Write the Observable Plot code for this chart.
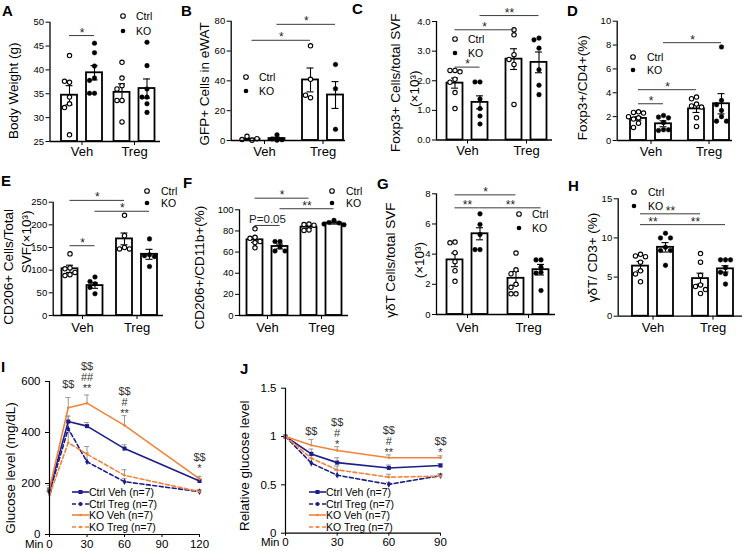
<!DOCTYPE html>
<html>
<head>
<meta charset="utf-8">
<script src="https://cdn.jsdelivr.net/npm/d3@7"></script>
<script src="https://cdn.jsdelivr.net/npm/@observablehq/plot@0.6"></script>
<style>
  html, body { margin: 0; padding: 0; background: #fff; }
  #fig { position: relative; width: 743px; height: 551px; overflow: hidden; background: #fff;
         font-family: "Liberation Sans", Arial, Helvetica, sans-serif; color: #000; }
  #fig > svg { position: absolute; left: 0; top: 0; }
  .letter { position: absolute; font-weight: bold; font-size: 15px; line-height: 1; }
  .txt { position: absolute; font-size: 10.5px; line-height: 12px; white-space: nowrap; }
  .sym { position: absolute; }
</style>
</head>
<body>
<div id="fig"></div>
<script>
// ---------------- DATA ----------------
const barKeys = ["Veh Ctrl", "Veh KO", "Treg Ctrl", "Treg KO"];
const groups = ["Veh", "Treg"];
const legendLabels = ["Ctrl", "KO"];

// A: Body weight (g)
const A_means = [34.7, 39.4, 35.3, 36.1];
const A_sems = [2.0, 1.5, 1.8, 2.0];
const A_points = [[43.0, 37.4, 37.6, 34.3, 32.9, 32.1, 26.4], [45.6, 43.6, 40.8, 38.3, 37.8, 35.1, 35.1],
                  [41.6, 38.3, 36.7, 36.0, 33.6, 33.6, 29.1], [45.8, 40.9, 36.0, 34.3, 34.3, 32.9, 31.1]];
const A_ticks = [25, 30, 35, 40, 45, 50];
const A_sig = [["Veh Ctrl", "Veh KO", 47.2, "*"]];
const A_ylabel = ["Body Weight (g)"];

// B: GFP+ cells in eWAT
const B_means = [0.9, 1.3, 40.6, 30.5];
const B_sems = [0.6, 0.9, 8.0, 9.0];
const B_points = [[0.2, 2.8, 1.2, 0.6], [0.2, 3.8, 1.0, 0.5], [63.5, 41.0, 28.7, 30.4], [51.0, 34.7, 7.5]];
const B_ticks = [0, 20, 40, 60, 80];
const B_sig = [["Veh KO", "Treg KO", 77.9, "*"], ["Veh Ctrl", "Treg Ctrl", 67.2, "*"]];
const B_ylabel = ["GFP+ Cells in eWAT"];

// C: Foxp3+ cells / total SVF (x10^3)
const C_means = [1.92, 1.27, 2.73, 2.62];
const C_sems = [0.17, 0.22, 0.35, 0.35];
const C_points = [[2.35, 2.35, 2.3, 2.05, 1.95, 1.6, 1.06], [1.96, 1.96, 1.38, 1.06, 0.81, 0.54],
                  [3.72, 3.55, 2.88, 2.72, 2.55, 1.2], [3.44, 3.38, 3.1, 2.37, 1.85, 1.53]];
const C_ticks = [0, 1, 2, 3, 4];
const C_sig = [["Veh KO", "Treg KO", 4.2, "**"], ["Veh Ctrl", "Treg Ctrl", 3.72, "*"], ["Veh Ctrl", "Veh KO", 2.46, "*"]];
const C_ylabel = ["Foxp3+ Cells/total SVF", "(×10³)"];

// D: Foxp3+/CD4+ (%)
const D_means = [1.85, 1.40, 2.65, 3.08];
const D_sems = [0.15, 0.25, 0.3, 0.85];
const D_points = [[2.4, 2.35, 2.3, 2.0, 1.9, 1.8, 1.45, 1.1], [2.1, 1.96, 1.9, 1.5, 0.9, 0.84, 0.9],
                  [3.64, 3.5, 3.05, 2.9, 2.8, 1.9, 1.18], [7.84, 3.36, 3.0, 2.52, 2.0, 1.62, 1.62]];
const D_ticks = [0, 2, 4, 6, 8, 10];
const D_sig = [["Veh KO", "Treg KO", 8.2, "*"], ["Veh Ctrl", "Treg Ctrl", 4.26, "*"], ["Veh Ctrl", "Veh KO", 3.08, "*"]];
const D_ylabel = ["Foxp3+/CD4+(%)"];

// E: CD206+ cells / total SVF (x10^3)
const E_means = [103, 66, 169, 135];
const E_sems = [8, 6, 13, 11];
const E_points = [[136, 105, 103, 95, 90, 88], [85, 75, 70, 62, 48], [221, 176, 150, 147, 147], [169, 134, 132, 130, 108]];
const E_ticks = [0, 50, 100, 150, 200, 250];
const E_sig = [["Veh Ctrl", "Treg Ctrl", 254, "*"], ["Veh KO", "Treg KO", 230, "*"], ["Veh Ctrl", "Veh KO", 154, "*"]];
const E_ylabel = ["CD206+ Cells/Total", "SVF(×10³)"];

// F: CD206+/CD11b+ (%)
const F_means = [71.6, 65.3, 83.6, 87.4];
const F_sems = [2.5, 2.3, 1.0, 0.9];
const F_points = [[82, 74, 73, 70, 69, 64], [70, 70, 65, 61, 61], [86.5, 86, 85.5, 81, 80.5], [90, 88, 87.5, 86.5, 85.8]];
const F_ticks = [0, 20, 40, 60, 80, 100];
const F_sig = [["Veh Ctrl", "Treg Ctrl", 111, "*"], ["Veh KO", "Treg KO", 101, "**"], ["Veh Ctrl", "Veh KO", 85.2, "P=0.05"]];
const F_ylabel = ["CD206+/CD11b+(%)"];

// G: γδT cells / total SVF (x10^3)
const G_means = [3.62, 5.35, 2.40, 2.97];
const G_sems = [0.45, 0.4, 0.45, 0.35];
const G_points = [[4.8, 4.75, 4.1, 3.5, 2.9, 2.2], [6.67, 5.97, 5.3, 4.3, 4.3],
                  [4.07, 2.96, 2.7, 2.0, 1.8, 1.37, 1.37], [3.62, 3.62, 3.14, 2.8, 2.74, 1.59]];
const G_ticks = [0, 2, 4, 6, 8];
const G_sig = [["Veh Ctrl", "Treg Ctrl", 7.93, "*"], ["Veh Ctrl", "Veh KO", 7.07, "**"], ["Veh KO", "Treg KO", 7.07, "**"]];
const G_ylabel = ["γδT Cells/total SVF", "(×10³)"];

// H: γδT / CD3+ (%)
const H_means = [6.4, 8.8, 4.8, 6.05];
const H_sems = [0.6, 0.6, 0.7, 0.4];
const H_points = [[7.9, 7.7, 7.6, 6.9, 5.8, 5.4, 4.4], [10.6, 10.0, 10.0, 8.8, 8.4, 8.4, 6.5],
                  [8.0, 6.9, 5.2, 4.0, 3.8, 3.4, 2.9], [7.2, 7.2, 7.2, 6.2, 5.6, 5.4, 4.1]];
const H_ticks = [0, 5, 10, 15];
const H_sig = [["Veh Ctrl", "Treg Ctrl", 13.08, "**"], ["Veh Ctrl", "Veh KO", 11.7, "**"], ["Veh KO", "Treg KO", 11.7, "**"]];
const H_ylabel = ["γδT/ CD3+ (%)"];

// I: GTT glucose (mg/dL)
const seriesNames = ["Ctrl Veh (n=7)", "Ctrl Treg (n=7)", "KO Veh (n=7)", "KO Treg (n=7)"];
const I_times = [0, 15, 30, 60, 120];
const I_ctrlVeh = [175, 443, 425, 337, 210];
const I_ctrlTreg = [165, 415, 285, 207, 168];
const I_koVeh = [180, 497, 515, 428, 218];
const I_koTreg = [155, 360, 315, 232, 168];
const I_semCtrlVeh = [8, 20, 14, 15, 8];
const I_semCtrlTreg = [8, 50, 35, 12, 5];
const I_semKoVeh = [12, 40, 32, 38, 10];
const I_semKoTreg = [12, 40, 30, 22, 8];
const I_yticks = [0, 200, 400, 600];
const I_xticks = [0, 30, 60, 90, 120];
const I_annT = [15, 30, 60, 120];
const I_annText = ["$$", "$$\n##\n**", "$$\n#\n**", "$$\n*"];
const I_annY = [575, 560, 462, 247];
const I_ylabel = "Glucose level (mg/dL)";

// J: relative glucose (ITT)
const J_times = [0, 15, 30, 60, 90];
const J_ctrlVeh = [1, 0.82, 0.73, 0.675, 0.70];
const J_ctrlTreg = [1, 0.725, 0.60, 0.505, 0.595];
const J_koVeh = [1, 0.91, 0.855, 0.78, 0.78];
const J_koTreg = [1, 0.775, 0.655, 0.58, 0.59];
const J_semCtrlVeh = [0, 0.05, 0.05, 0.03, 0.02];
const J_semCtrlTreg = [0, 0.05, 0.05, 0.02, 0.02];
const J_semKoVeh = [0, 0.06, 0.04, 0.03, 0.02];
const J_semKoTreg = [0, 0.06, 0.04, 0.03, 0.02];
const J_yticks = [0, 0.5, 1, 1.5];
const J_xticks = [0, 30, 60, 90];
const J_annT = [15, 30, 60, 90];
const J_annText = ["$$", "$$\n#\n*", "$$\n#\n**", "$$\n*"];
const J_annY = [1.02, 0.879, 0.80, 0.80];
const J_ylabel = "Relative glucose level";

// ---------------- LAYOUT (pixels) ----------------
const W = 743, H = 551;
const FONT = "'Liberation Sans', Arial, Helvetica, sans-serif";
const NAVY = "#1d1d8a", ORANGE = "#f2843a";
const BAR_LAYOUT = {
  A: {x0: 49.5, xe: 160, g0: 81.5, g1: 134, yTop: 21.7, yBase: 141, domain: [25, 50], ldx: [-36], ldy: [9], catDy: 14},
  B: {x0: 230.7, xe: 345, g0: 264, g1: 322.5, yTop: 20.7, yBase: 140, domain: [0, 80], ldx: [-27], ldy: [3], catDy: 15},
  C: {x0: 436, xe: 552, g0: 467, g1: 526, yTop: 21, yBase: 139.5, domain: [0, 4], ldx: [-41, -22], ldy: [2, 8], catDy: 15},
  D: {x0: 616.7, xe: 732, g0: 650.5, g1: 708.5, yTop: 20.7, yBase: 140, domain: [0, 10], ldx: [-35], ldy: [7], catDy: 15},
  E: {x0: 52.7, xe: 163, g0: 82, g1: 136.5, yTop: 201.7, yBase: 315, domain: [0, 250], ldx: [-45, -27], ldy: [8, -17], catDy: 16},
  F: {x0: 239, xe: 348, g0: 267, g1: 321, yTop: 209.3, yBase: 315, domain: [0, 100], ldx: [-40], ldy: [5], catDy: 16},
  G: {x0: 436, xe: 555, g0: 467, g1: 528, yTop: 193.3, yBase: 314, domain: [0, 8], ldx: [-46, -17], ldy: [6, 6], catDy: 17},
  H: {x0: 617.7, xe: 742, g0: 652.5, g1: 712.5, yTop: 198.3, yBase: 315.7, domain: [0, 15], ldx: [-26], ldy: [0], catDy: 16}
};
const BAR_LEGEND = {
  A: {cx: 123, cy: 16, tx: 136, dy: 15}, B: {cx: 246, cy: 77, tx: 259, dy: 14},
  C: {cx: 455, cy: 39, tx: 468, dy: 14}, D: {cx: 633, cy: 57, tx: 647, dy: 13},
  E: {cx: 147, cy: 191, tx: 161, dy: 12}, F: {cx: 332, cy: 191, tx: 346, dy: 12},
  G: {cx: 519, cy: 214, tx: 532, dy: 14}, H: {cx: 634, cy: 192, tx: 648, dy: 14}
};
const LETTERS = [["A", 2, 3], ["B", 181, 3], ["C", 352, 1], ["D", 567, 3], ["E", 1, 173], ["F", 183, 175],
                 ["G", 377, 176], ["H", 568, 178], ["I", 1, 359], ["J", 240, 361]];
const LINE_LAYOUT = {
  I: {x0: 49, xe: 199, yTop: 381, yBase: 534, xDomain: [0, 120], yDomain: [0, 600], ldx: -39, ldy: 10, cap: 2,
      leg: {x: 72, tx: 89, rows: [492, 503.5, 515, 526.5]}},
  J: {x0: 285, xe: 440, yTop: 387.7, yBase: 532.7, xDomain: [0, 90], yDomain: [0, 1.5], ldx: -41, ldy: 5, cap: 1.5,
      leg: {x: 309, tx: 326, rows: [492, 503.5, 515, 526.5]}}
};
const SERIES_STYLE = [
  {color: NAVY, dash: undefined, symbol: "square", r: 2.3},
  {color: NAVY, dash: "4,2.5", symbol: "diamond", r: 2.0},
  {color: ORANGE, dash: undefined, symbol: "circle", r: 1.3},
  {color: ORANGE, dash: "4,2.5", symbol: "circle", r: 1.3}
];

// ---------------- DRAWING ----------------
const fig = document.getElementById("fig");
function mount(el) { fig.appendChild(el); }
function addText(x, y, text, cls, extra) {
  const d = document.createElement("div");
  d.className = cls; d.textContent = text;
  d.style.left = x + "px"; d.style.top = y + "px";
  if (extra) Object.assign(d.style, extra);
  fig.appendChild(d);
}
function addSvg(x, y, w, h, inner) {
  const ns = "http://www.w3.org/2000/svg";
  const s = document.createElementNS(ns, "svg");
  s.setAttribute("class", "sym");
  s.setAttribute("width", w); s.setAttribute("height", h);
  s.style.left = x + "px"; s.style.top = y + "px"; s.style.position = "absolute";
  s.innerHTML = inner;
  fig.appendChild(s);
}

function barPanel(L, means, sems, points, ticks, sig, ylabel) {
  const unit = L.g1 - L.g0;
  const xDom = [(L.x0 - L.g0) / unit, (L.xe - L.g0) / unit];
  const off = 12.5 / unit, half = 8 / unit, cap = 3.5 / unit;
  const pxPerY = (L.yBase - L.yTop) / (L.domain[1] - L.domain[0]);
  const bars = barKeys.map((key, i) => {
    const [g, s] = key.split(" ");
    return {key, s, c: groups.indexOf(g) + (s === "Ctrl" ? -off : off), mean: means[i], sem: sems[i]};
  });
  const center = Object.fromEntries(bars.map(b => [b.key, b.c]));
  const pts = [];
  bars.forEach((b, i) => {
    const placed = [];
    points[i].forEach(v => {
      const py = v * pxPerY;
      let sx = 0;
      for (const k of [0, -1, 1, -2, 2, -3, 3]) {
        const cx = k * 5;
        if (placed.every(([qx, qy]) => Math.hypot(qx - cx, qy - py) >= 4.8)) { sx = cx; break; }
      }
      placed.push([sx, py]);
      pts.push({x: b.c + sx / unit, y: v, s: b.s});
    });
  });
  const sigs = sig.map(([a, b, y, t]) => ({x1: center[a], x2: center[b], y, t}));
  const base = L.domain[0];
  const marks = [
    Plot.rectY(bars, {x1: d => d.c - half, x2: d => d.c + half, y1: () => base, y2: "mean",
                      fill: "white", stroke: "black", strokeWidth: 1.8}),
    Plot.ruleX(bars, {x: "c", y1: d => d.mean - d.sem, y2: d => d.mean + d.sem, stroke: "black", strokeWidth: 1.1}),
    Plot.ruleY(bars, {y: d => d.mean + d.sem, x1: d => d.c - cap, x2: d => d.c + cap, stroke: "black", strokeWidth: 1.1}),
    Plot.ruleY(bars, {y: d => d.mean - d.sem, x1: d => d.c - cap, x2: d => d.c + cap, stroke: "black", strokeWidth: 1.1}),
    Plot.dot(pts, {filter: d => d.s === "Ctrl", x: "x", y: "y", r: 2.2, fill: "white", stroke: "black", strokeWidth: 1.1}),
    Plot.dot(pts, {filter: d => d.s === "KO", x: "x", y: "y", r: 2.3, fill: "black", stroke: "black", strokeWidth: 0.5}),
    Plot.ruleX([xDom[0]], {stroke: "black", strokeWidth: 1.3}),
    Plot.ruleY([base], {stroke: "black", strokeWidth: 1.3}),
    Plot.ruleY(sigs, {x1: "x1", x2: "x2", y: "y", stroke: "#3a3a3a", strokeWidth: 1}),
    Plot.text(sigs.filter(d => !d.t.startsWith("P")), {x: d => (d.x1 + d.x2) / 2, y: "y", text: "t", lineAnchor: "bottom", dy: 1, fontSize: 12, fill: "#222"}),
    Plot.text(sigs.filter(d => d.t.startsWith("P")), {x: d => (d.x1 + d.x2) / 2, y: "y", text: "t", lineAnchor: "bottom", dy: -2, fontSize: 11.5, fill: "#222"}),
    Plot.text(groups, {x: (d, i) => i, frameAnchor: "bottom", dy: L.catDy, text: d => d, fontSize: 13})
  ];
  ylabel.forEach((t, i) => marks.push(Plot.text([t], {frameAnchor: "left", textAnchor: "middle", rotate: -90,
    dx: L.ldx[i], dy: L.ldy[i], text: d => d, fontSize: 13.5})));
  return Plot.plot({
    width: W, height: H,
    marginLeft: L.x0, marginRight: W - L.xe, marginTop: L.yTop, marginBottom: H - L.yBase,
    x: {domain: xDom, ticks: [0, 1], tickFormat: () => "", tickSize: 4, label: null},
    y: {domain: L.domain, ticks, tickSize: 4, tickPadding: 2, label: null},
    style: {background: "transparent", overflow: "visible", fontFamily: FONT, fontSize: "9.5px", color: "black"},
    marks
  });
}

function barLegend(G) {
  addSvg(G.cx - 4, G.cy - 4, 8, 8, `<circle cx="4" cy="4" r="2.3" fill="white" stroke="black" stroke-width="1.1"/>`);
  addSvg(G.cx - 4, G.cy + G.dy - 4, 8, 8, `<circle cx="4" cy="4" r="2.3" fill="black"/>`);
  addText(G.tx, G.cy - 6, legendLabels[0], "txt");
  addText(G.tx, G.cy + G.dy - 6, legendLabels[1], "txt");
}

function linePanel(L, times, vals, sems, yticks, xticks, yFmt, annT, annText, annY, ylabel) {
  const rows = [];
  vals.forEach((arr, si) => arr.forEach((v, j) => rows.push({si, t: times[j], v, e: sems[si][j]})));
  const ann = annT.map((t, i) => ({t, s: annText[i], y: annY[i]}));
  const marks = [
    Plot.ruleX(rows.filter(d => d.e > 0), {x: "t", y1: "v", y2: d => d.v + d.e, stroke: "#9a9a9a", strokeWidth: 1}),
    Plot.ruleY(rows.filter(d => d.e > 0), {y: d => d.v + d.e, x1: d => d.t - L.cap, x2: d => d.t + L.cap, stroke: "#9a9a9a", strokeWidth: 1})
  ];
  SERIES_STYLE.forEach((st, si) => {
    const data = rows.filter(d => d.si === si);
    marks.push(Plot.line(data, {x: "t", y: "v", stroke: st.color, strokeWidth: 1.6, strokeDasharray: st.dash}));
    marks.push(Plot.dot(data, {x: "t", y: "v", symbol: st.symbol, r: st.r, fill: st.color}));
  });
  marks.push(
    Plot.ruleX([L.xDomain[0]], {stroke: "black", strokeWidth: 1.2}),
    Plot.ruleY([L.yDomain[0]], {stroke: "black", strokeWidth: 1.2}),
    Plot.text(ann, {x: "t", y: "y", text: "s", lineAnchor: "bottom", lineHeight: 1.0, fontSize: 11, fill: "#333"}),
    Plot.text(["Min"], {frameAnchor: "bottom-left", textAnchor: "end", lineAnchor: "top", dx: -6, dy: 5, text: d => d, fontSize: 11.5}),
    Plot.text([ylabel], {frameAnchor: "left", textAnchor: "middle", rotate: -90, dx: L.ldx, dy: L.ldy, text: d => d, fontSize: 13.5})
  );
  return Plot.plot({
    width: W, height: H,
    marginLeft: L.x0, marginRight: W - L.xe, marginTop: L.yTop, marginBottom: H - L.yBase,
    x: {domain: L.xDomain, ticks: xticks, tickSize: 3, tickPadding: 2, label: null},
    y: {domain: L.yDomain, ticks: yticks, tickSize: 4, tickFormat: yFmt, label: null},
    style: {background: "transparent", overflow: "visible", fontFamily: FONT, fontSize: "11.5px", color: "black"},
    marks
  });
}

function lineLegend(G) {
  SERIES_STYLE.forEach((st, i) => {
    const cy = G.rows[i];
    const sym = st.symbol === "square" ? `<rect x="6.5" y="2" width="4" height="4" fill="${st.color}"/>`
              : `<circle cx="8.5" cy="4" r="${st.r}" fill="${st.color}"/>`;
    addSvg(G.x, cy - 4, 17, 8,
      `<line x1="0" y1="4" x2="17" y2="4" stroke="${st.color}" stroke-width="1.6" ${st.dash ? `stroke-dasharray="${st.dash}"` : ""}/>` + sym);
    addText(G.tx, cy - 6, seriesNames[i], "txt");
  });
}

mount(barPanel(BAR_LAYOUT.A, A_means, A_sems, A_points, A_ticks, A_sig, A_ylabel));
mount(barPanel(BAR_LAYOUT.B, B_means, B_sems, B_points, B_ticks, B_sig, B_ylabel));
mount(barPanel(BAR_LAYOUT.C, C_means, C_sems, C_points, C_ticks, C_sig, C_ylabel));
mount(barPanel(BAR_LAYOUT.D, D_means, D_sems, D_points, D_ticks, D_sig, D_ylabel));
mount(barPanel(BAR_LAYOUT.E, E_means, E_sems, E_points, E_ticks, E_sig, E_ylabel));
mount(barPanel(BAR_LAYOUT.F, F_means, F_sems, F_points, F_ticks, F_sig, F_ylabel));
mount(barPanel(BAR_LAYOUT.G, G_means, G_sems, G_points, G_ticks, G_sig, G_ylabel));
mount(barPanel(BAR_LAYOUT.H, H_means, H_sems, H_points, H_ticks, H_sig, H_ylabel));
Object.values(BAR_LEGEND).forEach(barLegend);

mount(linePanel(LINE_LAYOUT.I, I_times, [I_ctrlVeh, I_ctrlTreg, I_koVeh, I_koTreg],
  [I_semCtrlVeh, I_semCtrlTreg, I_semKoVeh, I_semKoTreg], I_yticks, I_xticks, d => String(d),
  I_annT, I_annText, I_annY, I_ylabel));
mount(linePanel(LINE_LAYOUT.J, J_times, [J_ctrlVeh, J_ctrlTreg, J_koVeh, J_koTreg],
  [J_semCtrlVeh, J_semCtrlTreg, J_semKoVeh, J_semKoTreg], J_yticks, J_xticks, d => String(d),
  J_annT, J_annText, J_annY, J_ylabel));
lineLegend(LINE_LAYOUT.I.leg);
lineLegend(LINE_LAYOUT.J.leg);

LETTERS.forEach(([t, x, y]) => addText(x, y, t, "letter"));
</script>
</body>
</html>
